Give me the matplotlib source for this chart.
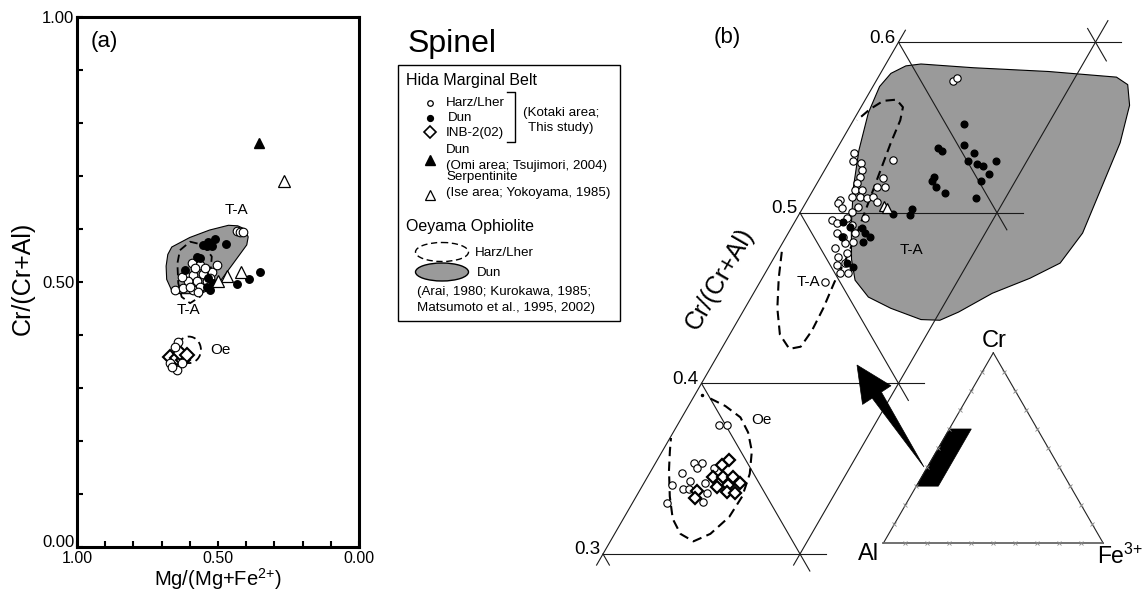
import numpy as np
import matplotlib
matplotlib.use("Agg")
import matplotlib.pyplot as plt
from matplotlib.patches import Polygon, Ellipse, Rectangle
from matplotlib.transforms import offset_copy

plt.rcParams['font.family'] = ['Liberation Sans', 'DejaVu Sans']
plt.rcParams['mathtext.fontset'] = 'custom'
plt.rcParams['mathtext.rm'] = 'Liberation Sans'
plt.rcParams['mathtext.it'] = 'Liberation Sans:italic'
plt.rcParams['mathtext.bf'] = 'Liberation Sans:bold'

# ---------------- panel (a) data: Mg# (x) vs Cr# (y) ----------------
a_harz_mg = [0.434, 0.422, 0.410, 0.652, 0.623, 0.617, 0.593, 0.588, 0.576, 0.564, 0.564,
             0.605, 0.552, 0.540, 0.522, 0.502, 0.588, 0.629, 0.582, 0.546, 0.599, 0.570,
             0.528, 0.641, 0.670, 0.646, 0.664, 0.629, 0.652]
a_harz_cr = [0.596, 0.595, 0.595, 0.485, 0.488, 0.513, 0.535, 0.513, 0.501, 0.532, 0.491,
             0.501, 0.516, 0.501, 0.519, 0.532, 0.485, 0.510, 0.526, 0.526, 0.491, 0.482,
             0.507, 0.386, 0.347, 0.334, 0.340, 0.347, 0.378]
a_dun_mg = [0.534, 0.511, 0.540, 0.522, 0.552, 0.472, 0.576, 0.564, 0.617, 0.528, 0.540,
            0.517, 0.351, 0.389, 0.434, 0.534]
a_dun_cr = [0.576, 0.581, 0.567, 0.567, 0.570, 0.571, 0.548, 0.545, 0.523, 0.485, 0.491,
            0.498, 0.519, 0.505, 0.496, 0.507]
a_inb_mg = [0.670, 0.646, 0.624, 0.635, 0.611]
a_inb_cr = [0.358, 0.357, 0.353, 0.366, 0.362]
a_omi_mg = [0.354]
a_omi_cr = [0.762]
a_ise_mg = [0.265, 0.418, 0.469, 0.499]
a_ise_cr = [0.691, 0.519, 0.511, 0.501]
a_dunfield_mg = [0.684, 0.678, 0.664, 0.600, 0.530, 0.463, 0.430, 0.405, 0.393, 0.398,
                 0.446, 0.493, 0.530, 0.564, 0.635, 0.665, 0.682]
a_dunfield_cr = [0.530, 0.552, 0.566, 0.584, 0.598, 0.607, 0.606, 0.600, 0.585, 0.570,
                 0.535, 0.501, 0.485, 0.478, 0.478, 0.485, 0.505]
a_harzfield_mg = [0.635, 0.599, 0.552, 0.522, 0.528, 0.564, 0.599, 0.629, 0.641, 0.644]
a_harzfield_cr = [0.560, 0.576, 0.570, 0.548, 0.510, 0.472, 0.460, 0.472, 0.498, 0.535]
a_oefield = (0.603, 0.372, 0.085, 0.05)   # centre Mg#, centre Cr#, width, height

# ---------------- panel (b) data: ternary Cr and Fe3+ fractions ----------------
b_harz_cr = [0.5348, 0.5303, 0.5290, 0.5251, 0.5208, 0.5173, 0.5133, 0.5133, 0.5094, 0.5094,
             0.5085, 0.5036, 0.5075, 0.5055, 0.5026, 0.5006, 0.4958, 0.4938, 0.4967, 0.4967,
             0.4928, 0.4879, 0.4860, 0.4879, 0.4821, 0.4831, 0.4792, 0.4743, 0.4762, 0.4694,
             0.4704, 0.4645, 0.4645, 0.5309, 0.5202, 0.5149, 0.5149, 0.5094, 0.5065, 0.4596,
             0.5773, 0.5789,
             0.3756, 0.3756, 0.3535, 0.3531, 0.3502, 0.3476, 0.3427, 0.3404, 0.3381, 0.3379,
             0.3414, 0.3502, 0.3355, 0.3306, 0.3296]
b_harz_fe = [0.0102, 0.0116, 0.0167, 0.0189, 0.0201, 0.0201, 0.0214, 0.0250, 0.0215, 0.0257,
             0.0296, 0.0278, 0.0166, 0.0164, 0.0199, 0.0259, 0.0182, 0.0217, 0.0253, 0.0346,
             0.0298, 0.0246, 0.0290, 0.0340, 0.0318, 0.0355, 0.0282, 0.0323, 0.0356, 0.0339,
             0.0376, 0.0381, 0.0423, 0.0319, 0.0322, 0.0357, 0.0315, 0.0325, 0.0357, 0.0329,
             0.0389, 0.0401,
             0.0213, 0.0250, 0.0196, 0.0235, 0.0228, 0.0161, 0.0228, 0.0147, 0.0218, 0.0249,
             0.0311, 0.0313, 0.0349, 0.0356, 0.0175]
b_dun_cr = [0.4948, 0.4919, 0.4909, 0.4879, 0.4860, 0.4860, 0.4831, 0.4704, 0.4684,
            0.5520, 0.5399, 0.5377, 0.5361, 0.5348, 0.5304, 0.5288, 0.5273, 0.5304, 0.5229,
            0.5185, 0.5207, 0.5185, 0.5150, 0.5117, 0.5086, 0.5024, 0.4987, 0.4995]
b_dun_fe = [0.0246, 0.0295, 0.0359, 0.0391, 0.0425, 0.0282, 0.0403, 0.0385, 0.0429,
            0.0573, 0.0634, 0.0511, 0.0538, 0.0707, 0.0700, 0.0756, 0.0792, 0.0844, 0.0843,
            0.0827, 0.0577, 0.0579, 0.0615, 0.0680, 0.0848, 0.0554, 0.0563, 0.0473]
b_inb_cr = [0.3550, 0.3521, 0.3453, 0.3453, 0.3453, 0.3394, 0.3404, 0.3414, 0.3365, 0.3355,
            0.3371, 0.3326]
b_inb_fe = [0.0366, 0.0342, 0.0330, 0.0384, 0.0435, 0.0380, 0.0434, 0.0489, 0.0445, 0.0492,
            0.0290, 0.0304]
b_ise_cr = [0.5040, 0.5026]
b_ise_fe = [0.0405, 0.0430]
b_dunfield_cr = [0.5817, 0.5861, 0.5872, 0.5850, 0.5828, 0.5795, 0.5751, 0.5630, 0.5410,
                 0.5145, 0.4881, 0.4705, 0.4616, 0.4528, 0.4418, 0.4370, 0.4374, 0.4440,
                 0.4506, 0.4605, 0.4727, 0.4925, 0.5145, 0.5366, 0.5586, 0.5740]
b_dunfield_fe = [0.0053, 0.0107, 0.0178, 0.0456, 0.0848, 0.1209, 0.1288, 0.1358, 0.1420,
                 0.1457, 0.1494, 0.1468, 0.1359, 0.1212, 0.1096, 0.1025, 0.0927, 0.0741,
                 0.0594, 0.0477, 0.0398, 0.0298, 0.0198, 0.0116, 0.0054, 0.0034]
b_tafield_cr = [0.4771, 0.4616, 0.4440, 0.4286, 0.4202, 0.4215, 0.4308, 0.4440, 0.4594,
                0.4727, 0.4881, 0.5057, 0.5233, 0.5410, 0.5542, 0.5619, 0.5663, 0.5656,
                0.5608, 0.5542]
b_tafield_fe = [0.0022, 0.0084, 0.0165, 0.0255, 0.0345, 0.0396, 0.0406, 0.0398, 0.0378,
                0.0369, 0.0349, 0.0318, 0.0287, 0.0256, 0.0238, 0.0213, 0.0158, 0.0095,
                0.0052, 0.0018]
b_oefield_cr = [0.3911, 0.3867, 0.3801, 0.3713, 0.3603, 0.3470, 0.3338, 0.3217, 0.3118,
                0.3074, 0.3118, 0.3206, 0.3338, 0.3492, 0.3603, 0.3680]
b_oefield_fe = [0.0090, 0.0188, 0.0297, 0.0380, 0.0454, 0.0510, 0.0538, 0.0532, 0.0486,
                0.0422, 0.0334, 0.0251, 0.0170, 0.0089, 0.0038, 0.0005]
b_levels = [0.3, 0.4, 0.5, 0.6]
b_level_labels = ['0.3', '0.4', '0.5', '0.6']

# ---------------- figure ----------------
W, H = 1144, 593
fig = plt.figure(figsize=(W / 100, H / 100), dpi=100)
GRAY = '#9a9a9a'
DASH = (0, (4.5, 2.6))

# ================= panel (a) =================
ax = fig.add_axes([77 / W, 1 - 547 / H, 282 / W, 530 / H])
ax.set_xlim(1, 0)
ax.set_ylim(0, 1)
ax.fill(a_dunfield_mg, a_dunfield_cr, facecolor=GRAY, edgecolor='black', lw=0.8,
        joinstyle='round', zorder=1)
ax.plot(a_harzfield_mg + a_harzfield_mg[:1], a_harzfield_cr + a_harzfield_cr[:1],
        color='black', lw=1.3, ls=DASH, zorder=2)
ax.add_patch(Ellipse(a_oefield[:2], a_oefield[2], a_oefield[3], fill=False,
                     edgecolor='black', lw=1.3, ls=DASH, zorder=2))
ax.plot(a_inb_mg, a_inb_cr, 'D', ms=6.8, mfc='white', mec='black', mew=1.5, zorder=3)
ax.plot(a_harz_mg, a_harz_cr, 'o', ms=6.2, mfc='white', mec='black', mew=0.8, zorder=4)
ax.plot(a_dun_mg, a_dun_cr, 'o', ms=5.4, mfc='black', mec='black', zorder=5)
ax.plot(a_omi_mg, a_omi_cr, '^', ms=7.5, mfc='black', mec='black', zorder=5)
ax.plot(a_ise_mg, a_ise_cr, '^', ms=8.5, mfc='white', mec='black', mew=0.9, zorder=5)

ax.set_xticks([1.0, 0.5, 0.0])
ax.set_xticklabels(['1.00', '0.50', '0.00'])
ax.set_yticks([0.0, 0.5, 1.0])
ax.set_yticklabels(['0.00', '0.50', '1.00'])
ax.set_xticks(np.round(np.arange(0, 1.01, 0.1), 1), minor=True)
ax.set_yticks(np.round(np.arange(0, 1.01, 0.1), 1), minor=True)
ax.tick_params(which='both', direction='in', length=4, width=1.5, top=False, right=False)
ax.tick_params(axis='x', labelsize=11.5, pad=3)
ax.tick_params(axis='y', labelsize=12, pad=2)
ax.get_yticklabels()[0].set_va('baseline')
for s in ax.spines.values():
    s.set_linewidth(2.2)
ax.set_xlabel('Mg/(Mg+Fe$^{2{+}}$)', fontsize=14.5)
ax.xaxis.set_label_coords(0.5, (547 - 592) / 530)
ax.xaxis.label.set_va('bottom')
ax.set_ylabel('Cr/(Cr+Al)', fontsize=18)
ax.yaxis.set_label_coords((23 - 77) / 282, (547 - 278) / 530)
ax.yaxis.label.set_va('center')
ax.text(0.096, 0.953, '(a)', transform=ax.transAxes, fontsize=16, ha='center', va='center')
ax.text(0.436, 0.636, 'T-A', fontsize=11, ha='center', va='center')
ax.text(0.606, 0.447, 'T-A', fontsize=11, ha='center', va='center')
ax.text(0.492, 0.372, 'Oe', fontsize=11, ha='center', va='center')

# ================= panel (b): enlarged ternary =================
S3 = np.sqrt(3) / 2


def tern_xy(cr, fe):
    cr = np.asarray(cr, float)
    fe = np.asarray(fe, float)
    return fe + cr / 2, cr * S3


SC = 1970.0           # pixels per ternary unit
OX, OY = 307.5, 1065.8
tern = fig.add_axes([0, 0, 1, 1])
tern.set_xlim(-OX / SC, (W - OX) / SC)
tern.set_ylim((OY - H) / SC, OY / SC)
tern.axis('off')

# gray Oeyama dunite field
gx, gy = tern_xy(b_dunfield_cr, b_dunfield_fe)
tern.fill(gx, gy, facecolor=GRAY, edgecolor='black', lw=0.8, joinstyle='round', zorder=1)

# grid lines
GL = dict(color='#1a1a1a', lw=0.8, zorder=2)


def tline(p, q):
    x, y = tern_xy([p[0], q[0]], [p[1], q[1]])
    tern.plot(x, y, **GL)


tline((0.2935, 0.0), (0.607, 0.0))          # Fe = 0 edge
tline((0.2935, 0.1), (0.6126, 0.1))         # Fe = 0.1
for c in b_levels:
    tline((c, 0.0), (c, 0.113))             # Cr = const
for c in b_levels[1:]:
    tline((c, 0.0), (c - 0.11, 0.11))       # Al = const
tline((0.30, 0.0), (0.2935, 0.0065))
tline((0.608, 0.092), (0.589, 0.111))

for c, lab in zip(b_levels, b_level_labels):
    x, y = tern_xy(c, 0.0)
    tr = offset_copy(tern.transData, fig=fig, x=-3, y=4, units='dots')
    tern.text(x, y, lab, transform=tr, fontsize=13.5, ha='right', va='center')

# dashed Harz/Lher fields
tx, ty = tern_xy(b_tafield_cr, b_tafield_fe)
tern.plot(tx, ty, color='black', lw=1.5, ls=DASH, zorder=3)
ox_, oy_ = tern_xy(b_oefield_cr, b_oefield_fe)
tern.plot(ox_, oy_, color='black', lw=1.5, ls=DASH, zorder=3)
dx, dy = tern_xy([0.3933], [0.0037])
tern.plot(dx, dy, 'o', ms=1.5, color='black', zorder=3)

# points
x, y = tern_xy(b_inb_cr, b_inb_fe)
tern.plot(x, y, 'D', ms=6.4, mfc='white', mec='black', mew=1.6, zorder=5)
x, y = tern_xy(b_harz_cr, b_harz_fe)
tern.plot(x, y, 'o', ms=5.3, mfc='white', mec='black', mew=0.8, zorder=4)
x, y = tern_xy(b_dun_cr, b_dun_fe)
tern.plot(x, y, 'o', ms=4.8, mfc='black', mec='black', zorder=5)
x, y = tern_xy(b_ise_cr, b_ise_fe)
tern.plot(x, y, '^', ms=7, mfc='white', mec='black', mew=0.9, zorder=6)

for (c, f, t) in [(0.4782, 0.0675, 'T-A'), (0.4594, 0.0244, 'T-A'), (0.3785, 0.0413, 'Oe')]:
    x, y = tern_xy(c, f)
    tern.text(x, y, t, fontsize=11, ha='center', va='center', zorder=7)

fig.text(727 / W, 1 - 38 / H, '(b)', fontsize=16, ha='center', va='center')
fig.text(720 / W, 1 - 279 / H, 'Cr/(Cr+Al)', fontsize=18, ha='center', va='center',
         rotation=60, rotation_mode='anchor')

# ================= inset: full Cr-Al-Fe3+ triangle =================
IS = 220.0
IX, IY = 883.3, 543.3
ins = fig.add_axes([0, 0, 1, 1])
ins.set_xlim(-IX / IS, (W - IX) / IS)
ins.set_ylim((IY - H) / IS, IY / IS)
ins.axis('off')
cx, cy = tern_xy([1, 0, 0, 1], [0, 0, 1, 0])
ins.plot(cx[:2], cy[:2], color='#222222', lw=0.8)
ins.plot(cx[2:], cy[2:], color='#222222', lw=0.8)
ins.plot(cx[1:3], cy[1:3], color='#666666', lw=1.3)
tv = np.round(np.arange(0.1, 0.95, 0.1), 1)
for cr_t, fe_t in [(np.zeros_like(tv), tv), (tv, np.zeros_like(tv)), (tv, 1 - tv)]:
    x, y = tern_xy(cr_t, fe_t)
    ins.plot(x, y, 'x', ms=2.6, mew=0.6, color='#888888')
px_, py_ = tern_xy([b_levels[0], b_levels[-1], b_levels[-1], b_levels[0]], [0, 0, 0.1, 0.1])
ins.add_patch(Polygon(np.column_stack([px_, py_]), closed=True, facecolor='black',
                      edgecolor='black', lw=0.5))

fig.text(994 / W, 1 - 341 / H, 'Cr', fontsize=17, ha='center', va='center')
fig.text(869 / W, 1 - 554 / H, 'Al', fontsize=17, ha='center', va='center')
fig.text(1097 / W, 1 - 556 / H, 'Fe$^{3{+}}$', fontsize=16.5, ha='left', va='center')

# ================= overlay: legend, title and arrow (pixel coordinates) =================
lg = fig.add_axes([0, 0, 1, 1])
lg.set_xlim(0, W)
lg.set_ylim(H, 0)
lg.axis('off')

# big arrow from inset to enlarged area
tip = np.array([857.0, 365.0])
tail = np.array([924.0, 467.0])
u = (tip - tail) / np.linalg.norm(tip - tail)
n = np.array([-u[1], u[0]])
base = tip - 36 * u
arrow_pts = [tail, base + 5.5 * n, base + 17 * n, tip, base - 17 * n, base - 5.5 * n]
lg.add_patch(Polygon(arrow_pts, closed=True, facecolor='black', edgecolor='black', lw=0.5))

lg.text(408, 52, 'Spinel', fontsize=23, ha='left', va='baseline')
lg.add_patch(Rectangle((398, 65), 222, 256, fill=False, edgecolor='black', lw=1.0))
lg.text(406, 80, 'Hida Marginal Belt', fontsize=11.5, ha='left', va='center')
FS = 9.6
lg.plot([430], [103], 'o', ms=4.0, mfc='white', mec='black', mew=0.9)
lg.text(446, 103, 'Harz/Lher', fontsize=FS, ha='left', va='center')
lg.plot([430], [118], 'o', ms=4.2, mfc='black', mec='black')
lg.text(448, 118, 'Dun', fontsize=FS, ha='left', va='center')
lg.plot([430], [132], 'D', ms=6.6, mfc='white', mec='black', mew=1.2)
lg.text(446, 133, 'INB-2(02)', fontsize=FS, ha='left', va='center')
lg.plot([507, 515, 515, 507], [92, 92, 142, 142], color='black', lw=1.0)
lg.text(523, 113, '(Kotaki area;', fontsize=FS, ha='left', va='center')
lg.text(528, 128, 'This study)', fontsize=FS, ha='left', va='center')
lg.plot([430], [160], '^', ms=7, mfc='black', mec='black')
lg.text(446, 150, 'Dun', fontsize=FS, ha='left', va='center')
lg.text(446, 166, '(Omi area; Tsujimori, 2004)', fontsize=FS, ha='left', va='center')
lg.plot([430], [195], '^', ms=7.5, mfc='white', mec='black', mew=0.9)
lg.text(446, 177, 'Serpentinite', fontsize=FS, ha='left', va='center')
lg.text(446, 193, '(Ise area; Yokoyama, 1985)', fontsize=FS, ha='left', va='center')
lg.text(406, 227, 'Oeyama Ophiolite', fontsize=11.5, ha='left', va='center')
lg.add_patch(Ellipse((442, 252), 53, 19, fill=False, edgecolor='black', lw=1.0, ls=DASH))
lg.add_patch(Ellipse((442, 272), 53, 18, facecolor=GRAY, edgecolor='black', lw=1.0))
lg.text(475, 253, 'Harz/Lher', fontsize=FS, ha='left', va='center')
lg.text(477, 273, 'Dun', fontsize=FS, ha='left', va='center')
lg.text(417, 292, '(Arai, 1980; Kurokawa, 1985;', fontsize=FS, ha='left', va='center')
lg.text(417, 308, 'Matsumoto et al., 1995, 2002)', fontsize=FS, ha='left', va='center')

fig.savefig('out.png', dpi=100)
